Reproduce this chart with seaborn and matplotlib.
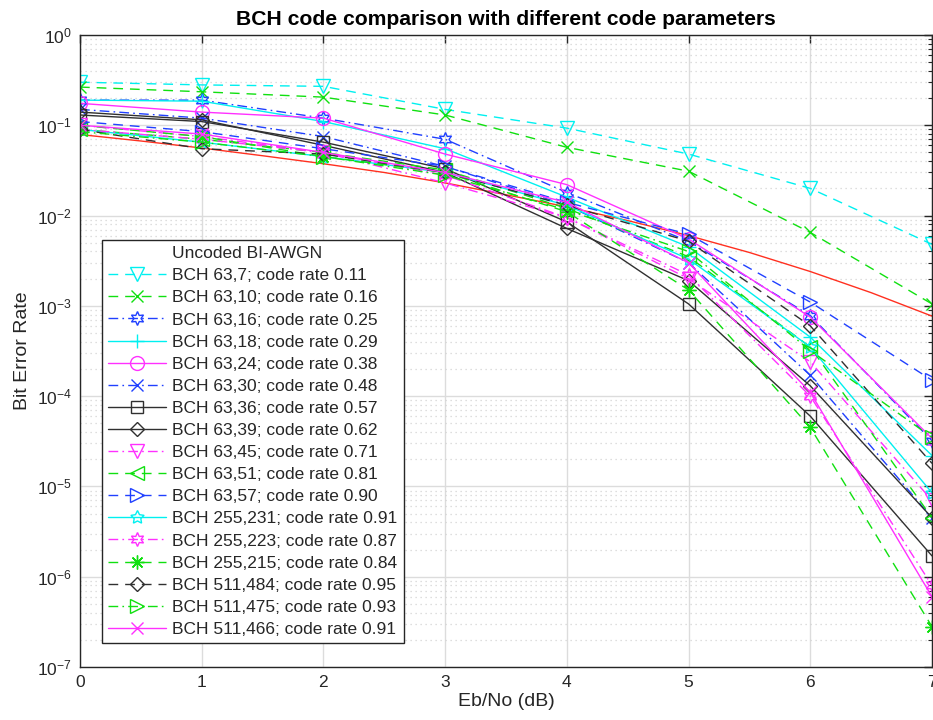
import numpy as np
import pandas as pd
import matplotlib
matplotlib.use("Agg")
import matplotlib.pyplot as plt
import seaborn as sns
from matplotlib.ticker import LogLocator, FixedLocator

# ---------------- data ----------------
ebno = [0, 1, 2, 3, 4, 5, 6, 7]
ebno_uncoded = [0, 0.5, 1, 1.5, 2, 2.5, 3, 3.5, 4, 4.5, 5, 5.5, 6, 6.5, 7]
ber_uncoded = [0.079, 0.067, 0.056, 0.046, 0.0375, 0.030, 0.023, 0.017,
               0.0125, 0.0088, 0.006, 0.0039, 0.0024, 0.0014, 0.00077]

labels = [
    "BCH 63,7; code rate 0.11",
    "BCH 63,10; code rate 0.16",
    "BCH 63,16; code rate 0.25",
    "BCH 63,18; code rate 0.29",
    "BCH 63,24; code rate 0.38",
    "BCH 63,30; code rate 0.48",
    "BCH 63,36; code rate 0.57",
    "BCH 63,39; code rate 0.62",
    "BCH 63,45; code rate 0.71",
    "BCH 63,51; code rate 0.81",
    "BCH 63,57; code rate 0.90",
    "BCH 255,231; code rate 0.91",
    "BCH 255,223; code rate 0.87",
    "BCH 255,215; code rate 0.84",
    "BCH 511,484; code rate 0.95",
    "BCH 511,475; code rate 0.93",
    "BCH 511,466; code rate 0.91",
]

ber_63_7    = [0.30, 0.28, 0.27, 0.15, 0.093, 0.048, 0.020, 0.0048]
ber_63_10   = [0.265, 0.235, 0.205, 0.13, 0.057, 0.031, 0.0065, 0.00105]
ber_63_16   = [0.19, 0.19, 0.12, 0.070, 0.018, 0.0052, 0.00078, 3.2e-5]
ber_63_18   = [0.19, 0.185, 0.11, 0.055, 0.016, 0.0045, 0.00045, 2.2e-5]
ber_63_24   = [0.175, 0.14, 0.12, 0.048, 0.022, 0.0055, 0.00075, 3.4e-5]
ber_63_30   = [0.15, 0.12, 0.075, 0.035, 0.013, 0.0030, 0.00017, 4.5e-6]
ber_63_36   = [0.13, 0.11, 0.065, 0.033, 0.0085, 0.00105, 6.0e-5, 1.7e-6]
ber_63_39   = [0.14, 0.115, 0.060, 0.030, 0.0072, 0.0019, 0.00013, 4.5e-6]
ber_63_45   = [0.10, 0.075, 0.050, 0.023, 0.0095, 0.0020, 0.00024, 7.0e-6]
ber_63_51   = [0.09, 0.070, 0.050, 0.032, 0.012, 0.0035, 0.00035, 4.5e-6]
ber_63_57   = [0.11, 0.085, 0.055, 0.035, 0.014, 0.0062, 0.0011, 0.00015]
ber_255_231 = [0.09, 0.065, 0.045, 0.030, 0.013, 0.0033, 0.00035, 8.5e-6]
ber_255_223 = [0.09, 0.070, 0.050, 0.028, 0.0095, 0.0022, 0.00010, 8.0e-7]
ber_255_215 = [0.10, 0.075, 0.045, 0.030, 0.011, 0.0015, 4.5e-5, 2.8e-7]
ber_511_484 = [0.09, 0.055, 0.048, 0.030, 0.013, 0.0052, 0.00060, 1.8e-5]
ber_511_475 = [0.085, 0.065, 0.045, 0.028, 0.0115, 0.0040, 0.00032, 3.5e-5]
ber_511_466 = [0.10, 0.080, 0.050, 0.030, 0.014, 0.0030, 0.00011, 6.0e-7]

series = [ber_63_7, ber_63_10, ber_63_16, ber_63_18, ber_63_24, ber_63_30,
          ber_63_36, ber_63_39, ber_63_45, ber_63_51, ber_63_57,
          ber_255_231, ber_255_223, ber_255_215, ber_511_484, ber_511_475,
          ber_511_466]

# ---------------- styles ----------------
C, G, B, M, K = "#00f0f0", "#10e010", "#2040ff", "#ff30ff", "#303030"
hexagram = (6, 1, 0)
pentagram = (5, 1, 0)
aster = (8, 2, 0)
DASH = (7, 5)
DASHDOT = (7, 3, 1.2, 3)
styles = [
    (C, DASH, "v"), (G, DASH, "x"), (B, DASHDOT, hexagram), (C, None, "+"),
    (M, None, "o"), (B, DASHDOT, "x"), (K, None, "s"), (K, None, "D"),
    (M, DASHDOT, "v"), (G, DASH, "<"), (B, DASH, ">"), (C, None, pentagram),
    (M, DASHDOT, hexagram), (G, DASH, aster), (K, DASH, "D"), (G, DASHDOT, ">"),
    (M, None, "x"),
]
msizes = {"v": 10, "x": 8, "+": 10, "o": 10, "s": 8, "D": 7, "<": 10, ">": 10}

sns.set_theme(style="white")
plt.rcParams["font.family"] = ["Liberation Sans", "DejaVu Sans"]
plt.rcParams["mathtext.fontset"] = "custom"
plt.rcParams["mathtext.rm"] = "Liberation Sans"
plt.rcParams["mathtext.it"] = "Liberation Sans:italic"

fig = plt.figure(figsize=(9.33, 7.2), dpi=100)
ax = fig.add_axes([80 / 933, 1 - 667 / 720, 852 / 933, 632 / 720])

sns.lineplot(x=ebno_uncoded, y=ber_uncoded, ax=ax, color="#ff3020",
             linewidth=1.0, label="Uncoded BI-AWGN")

for lab, ys, (col, dsh, mk) in zip(labels, series, styles):
    ms = msizes.get(mk, 10) if isinstance(mk, str) else 10
    kw = dict(color=col, linewidth=1.0, marker=mk, markersize=ms,
              markerfacecolor="none", markeredgecolor=col,
              markeredgewidth=1.0, label=lab)
    line = sns.lineplot(x=ebno, y=ys, ax=ax, **kw).lines[-1]
    if dsh is not None:
        line.set_dashes(dsh)

ax.set_yscale("log")
ax.set_xlim(0, 7)
ax.set_ylim(1e-7, 1)
ax.xaxis.set_major_locator(FixedLocator(ebno))
ax.yaxis.set_major_locator(LogLocator(base=10, numticks=20))
ax.yaxis.set_minor_locator(LogLocator(base=10, subs=np.arange(2, 10), numticks=20))

ax.grid(True, which="major", color="#dcdcdc", linewidth=1.0, linestyle="-")
ax.grid(True, which="minor", axis="y", color="#d4d4d4", linewidth=0.9,
        linestyle=(0, (1, 3)))
ax.set_axisbelow(True)
ax.tick_params(which="both", direction="in", top=True, right=True,
               colors="#262626", labelsize=12.5)
ax.tick_params(which="major", length=6, width=1.0, pad=6)
ax.tick_params(which="minor", length=3, width=0.8)
for s in ax.spines.values():
    s.set_color("#262626")
    s.set_linewidth(1.0)

ax.set_xlabel("Eb/No (dB)", fontsize=14, color="#262626", labelpad=2)
ax.set_ylabel("Bit Error Rate", fontsize=14, color="#262626", labelpad=4)
ax.set_title("BCH code comparison with different code parameters",
             fontsize=15.2, fontweight="bold", color="black", pad=7)

leg = ax.legend(loc="lower left", bbox_to_anchor=(0.026, 0.038),
                borderaxespad=0, fontsize=12.5, frameon=True, fancybox=False,
                edgecolor="#262626", framealpha=1, handlelength=3.3,
                handletextpad=0.4, labelspacing=0.40, borderpad=0.35)
leg.get_frame().set_linewidth(1.0)
leg.legend_handles[0].set_visible(False)

fig.savefig("out.png", dpi=100)
